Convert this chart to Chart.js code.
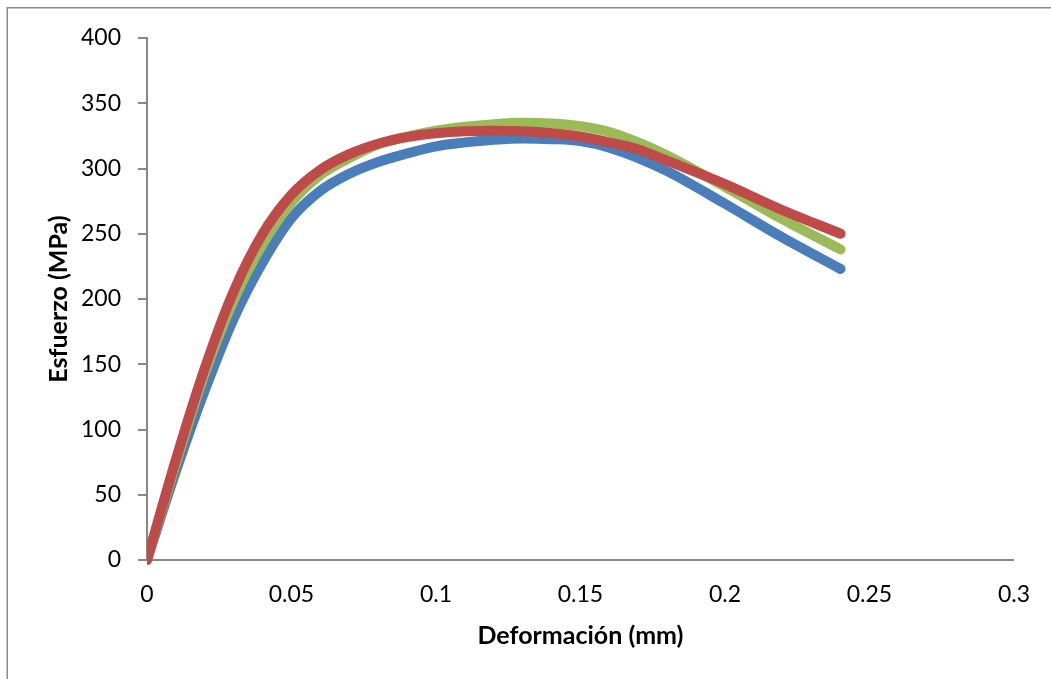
<!DOCTYPE html>
<html>
<head>
<meta charset="utf-8">
<script src="https://cdn.jsdelivr.net/npm/chart.js@4.4.1/dist/chart.umd.min.js"></script>
<style>
  html, body { margin: 0; padding: 0; background: #ffffff; }
  #wrap { width: 1051px; height: 679px; }
</style>
</head>
<body>
<div id="wrap"><canvas id="c" width="1051" height="679"></canvas></div>
<script>
// ---- Data ----
const deformacion = [0, 0.01, 0.02, 0.03, 0.04, 0.05, 0.06, 0.07, 0.08, 0.09, 0.10, 0.11, 0.12, 0.13, 0.14, 0.15, 0.16, 0.17, 0.18, 0.20, 0.22, 0.24];
const esfuerzoAzul  = [0, 68, 130, 185, 228, 262, 283, 296, 305, 311.5, 317, 320, 322, 323, 322.5, 321, 316, 308, 298, 273, 247, 223];
const esfuerzoVerde = [0, 74, 143, 199, 242, 274, 295, 308, 318.5, 324.5, 329, 332, 334, 335, 334.5, 332.5, 328, 320, 310, 286, 261, 238];
const esfuerzoRojo  = [0, 77, 147, 206, 250, 280, 299, 311, 319, 324, 327, 328.5, 329, 328.5, 327, 324.5, 320, 314.5, 306, 288, 268, 250];
const yTickValues = [0, 50, 100, 150, 200, 250, 300, 350, 400];
const xTickValues = [0, 0.05, 0.1, 0.15, 0.2, 0.25, 0.3];
const tituloX = 'Deformación (mm)';
const tituloY = 'Esfuerzo (MPa)';

function toPoints(xs, ys) { return xs.map((x, i) => ({ x: x, y: ys[i] })); }

const FONT = 'Lato, "Open Sans", "Liberation Sans", sans-serif';
const AXIS_GRAY = '#878787';

const frame = {
  id: 'frame',
  beforeDraw(chart) {
    const ctx = chart.ctx;
    ctx.save();
    ctx.fillStyle = '#ffffff';
    ctx.fillRect(0, 0, chart.width, chart.height);
    ctx.strokeStyle = '#898989';
    ctx.lineWidth = 1.5;
    ctx.strokeRect(7.25, 7.75, 1100, 720);
    ctx.restore();
  }
};

const lineDs = (label, ys, color) => ({
  label: label,
  data: toPoints(deformacion, ys),
  borderColor: color,
  backgroundColor: color,
  borderWidth: 10,
  pointRadius: 0,
  pointHoverRadius: 0,
  showLine: true,
  fill: false,
  cubicInterpolationMode: 'monotone',
  borderCapStyle: 'round',
  borderJoinStyle: 'round',
  clip: { left: 0, top: 6, right: 6, bottom: 6 }
});

new Chart(document.getElementById('c'), {
  type: 'scatter',
  data: {
    // first dataset is drawn on top: red over green over blue
    datasets: [
      lineDs('Serie 3', esfuerzoRojo, '#BE4B48'),
      lineDs('Serie 2', esfuerzoVerde, '#9BBB59'),
      lineDs('Serie 1', esfuerzoAzul, '#4A7EBB')
    ]
  },
  plugins: [frame],
  options: {
    responsive: false,
    animation: false,
    devicePixelRatio: 1,
    layout: { padding: { left: 0, right: 33, top: 38, bottom: 0 } },
    plugins: { legend: { display: false }, tooltip: { enabled: false } },
    scales: {
      x: {
        type: 'linear',
        min: 0, max: 0.3,
        afterBuildTicks(scale) { scale.ticks = xTickValues.map(v => ({ value: v })); },
        afterFit(scale) { scale.height = 119; },
        grid: { display: false, drawTicks: false },
        border: { display: true, color: AXIS_GRAY, width: 2 },
        ticks: {
          padding: 21,
          color: '#000',
          font: { family: FONT, size: 23 },
          maxRotation: 0,
          callback: v => String(Number(v.toFixed(2)))
        },
        title: {
          display: true,
          text: tituloX,
          color: '#000',
          font: { family: FONT, size: 25, weight: 'bold' },
          padding: { top: 0, bottom: 28 }
        }
      },
      y: {
        type: 'linear',
        min: 0, max: 400,
        afterBuildTicks(scale) { scale.ticks = yTickValues.map(v => ({ value: v })); },
        afterFit(scale) { scale.width = 147; },
        grid: { display: true, drawOnChartArea: false, drawTicks: true, tickLength: 9, color: AXIS_GRAY, lineWidth: 2 },
        border: { display: true, color: AXIS_GRAY, width: 2 },
        ticks: {
          padding: 17,
          color: '#000',
          font: { family: FONT, size: 23 },
          callback: v => String(v)
        },
        title: {
          display: true,
          text: tituloY,
          color: '#000',
          font: { family: FONT, size: 25, weight: 'bold' },
          padding: { top: 44, bottom: 0 }
        }
      }
    }
  }
});
</script>
</body>
</html>
